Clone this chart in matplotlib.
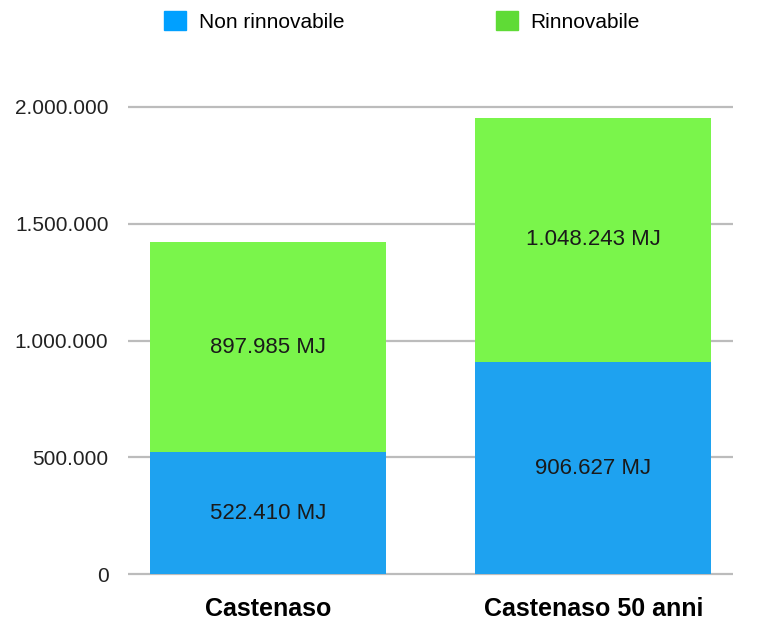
import matplotlib
matplotlib.use('Agg')
import matplotlib.pyplot as plt
from matplotlib.ticker import FuncFormatter
from matplotlib.patches import Patch

categories = ['Castenaso', 'Castenaso 50 anni']
non_rinnovabile = [522410, 906627]
rinnovabile = [897985, 1048243]
series_names = ['Non rinnovabile', 'Rinnovabile']
yticks = [0, 500000, 1000000, 1500000, 2000000]

BLUE = '#1ea2f0'
GREEN = '#7af54b'
BLUE_LEG = '#00a0ff'
GREEN_LEG = '#5fdb36'

def fmt_it(v):
  # punto come separatore delle migliaia
  return '{:,.0f}'.format(v).replace(',', '.')

plt.rcParams['font.family'] = ['Liberation Sans', 'DejaVu Sans']

fig = plt.figure(figsize=(7.75, 6.23), dpi=100)
ax = fig.add_axes([0.165, 0.073, 0.781, 0.804])

x = list(range(len(categories)))
width = 0.726
ax.bar(x, non_rinnovabile, width, color=BLUE, label=series_names[0], zorder=3)
ax.bar(x, rinnovabile, width, bottom=non_rinnovabile, color=GREEN,
       label=series_names[1], zorder=3)

for i in x:
  ax.text(i, non_rinnovabile[i] / 2, fmt_it(non_rinnovabile[i]) + ' MJ',
          ha='center', va='center', fontsize=16, color='#1a1a1a', zorder=4)
  ax.text(i, non_rinnovabile[i] + rinnovabile[i] / 2, fmt_it(rinnovabile[i]) + ' MJ',
          ha='center', va='center', fontsize=16, color='#1a1a1a', zorder=4)

ax.set_xlim(-0.43, 1.43)
ax.set_ylim(-15000, 2130000)
ax.set_yticks(yticks)
ax.yaxis.set_major_formatter(FuncFormatter(lambda v, p: fmt_it(v)))
ax.yaxis.grid(True, color='#bcbcbc', linewidth=1.6, zorder=0)
ax.tick_params(axis='y', length=0, pad=14, labelsize=15, labelcolor='#222222')
ax.set_xticks(x)
ax.set_xticklabels(categories, fontsize=18, fontweight='bold')
ax.tick_params(axis='x', length=0, pad=14)
for s in ax.spines.values():
  s.set_visible(False)

# legenda in alto
handles = [Patch(color=BLUE_LEG), Patch(color=GREEN_LEG)]
fig.legend(handles, series_names, loc='upper center', bbox_to_anchor=(0.519, 1.012),
           ncol=2, frameon=False, fontsize=15, handlelength=1.05, handleheight=1.0,
           columnspacing=7.3, handletextpad=0.6)

fig.savefig('out.png', dpi=100, facecolor='white')
